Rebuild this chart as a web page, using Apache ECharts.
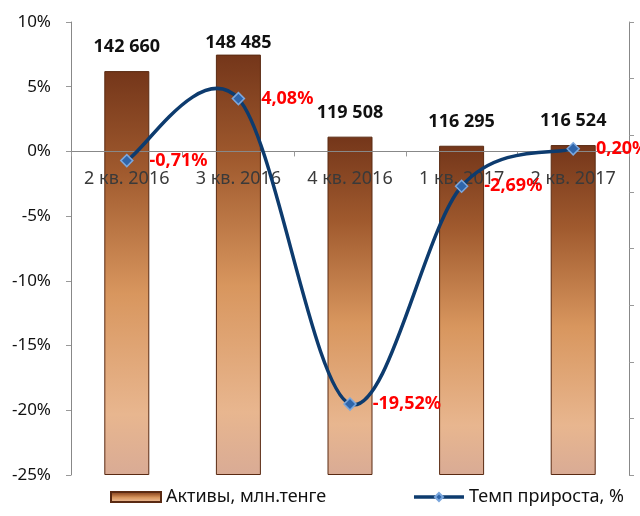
<!DOCTYPE html>
<html><head><meta charset="utf-8">
<script src="https://cdn.jsdelivr.net/npm/echarts@6/dist/echarts.min.js"></script>
<style>html,body{margin:0;padding:0;background:#fff}#c{width:640px;height:516px}</style>
</head><body><div id="c"></div>
<script>
const categories = ['2 кв. 2016', '3 кв. 2016', '4 кв. 2016', '1 кв. 2017', '2 кв. 2017'];
const assets = [142660, 148485, 119508, 116295, 116524];
const growth = [-0.71, 4.08, -19.52, -2.69, 0.20];
const pctTicks = {min: -25, max: 10, interval: 5};
const assetTicks = {min: 0, max: 160000, interval: 20000};
const seriesNames = ['Активы, млн.тенге', 'Темп прироста, %'];

const FONT = 'Noto Sans';
const LINE_COLOR = '#0d3b6e';
const GRID = {left: 71, right: 11, top: 22, bottom: 41};
const plotH = 516 - GRID.top - GRID.bottom;
const zeroOffset = -plotH * (0 - pctTicks.min) / (pctTicks.max - pctTicks.min);

const barGrad = new echarts.graphic.LinearGradient(0, 0, 0, 1, [
  {offset: 0, color: '#74361a'},
  {offset: 0.25, color: '#a05a2e'},
  {offset: 0.55, color: '#d8965e'},
  {offset: 0.85, color: '#e8b68f'},
  {offset: 1, color: '#d9ab95'}
]);
const fmtSpace = v => String(v).replace(/\B(?=(\d{3})+(?!\d))/g, ' ');
const barData = assets.map((v, i) => i === 1 ? {value: v, label: {distance: 3}} : v);

// Excel-like smoothing (Catmull-Rom -> Bezier) drawn through the chart's own scales
function renderCurve(params, api) {
  const i = params.dataIndex, n = growth.length;
  if (i >= n - 1) return {type: 'group', children: []};
  const c = k => api.coord([k, growth[k]]);
  const p0 = c(Math.max(i - 1, 0)), p1 = c(i), p2 = c(i + 1), p3 = c(Math.min(i + 2, n - 1));
  return {
    type: 'bezierCurve',
    shape: {
      x1: p1[0], y1: p1[1], x2: p2[0], y2: p2[1],
      cpx1: p1[0] + (p2[0] - p0[0]) / 6, cpy1: p1[1] + (p2[1] - p0[1]) / 6,
      cpx2: p2[0] - (p3[0] - p1[0]) / 6, cpy2: p2[1] - (p3[1] - p1[1]) / 6
    },
    style: {stroke: LINE_COLOR, lineWidth: 3.5, fill: null, lineCap: 'round'}
  };
}

const chart = echarts.init(document.getElementById('c'));
chart.setOption({
  animation: false,
  textStyle: {fontFamily: FONT},
  grid: Object.assign({containLabel: false}, GRID),
  legend: {
    bottom: 5, left: 105, itemGap: 86, itemWidth: 50, itemHeight: 10,
    textStyle: {fontFamily: FONT, fontSize: 18, color: '#111'},
    data: [
      {name: seriesNames[0], icon: 'rect'},
      {name: seriesNames[1], lineStyle: {color: LINE_COLOR, width: 3.5, opacity: 1}}
    ]
  },
  xAxis: {
    type: 'category', data: categories, position: 'bottom', offset: zeroOffset, z: 3,
    axisLine: {onZero: false, lineStyle: {color: '#888', width: 1}},
    axisTick: {show: true, length: 5, lineStyle: {color: '#999'}},
    axisLabel: {margin: 18, fontSize: 18, color: '#3a3a3a', fontFamily: FONT}
  },
  yAxis: [
    {type: 'value', min: pctTicks.min, max: pctTicks.max, interval: pctTicks.interval,
     axisLine: {show: true, lineStyle: {color: '#888'}},
     axisTick: {show: true, length: 5, lineStyle: {color: '#999'}},
     splitLine: {show: false},
     axisLabel: {formatter: '{value}%', fontSize: 17, color: '#111', margin: 20, fontFamily: FONT}},
    {type: 'value', position: 'right', min: assetTicks.min, max: assetTicks.max, interval: assetTicks.interval,
     axisLine: {show: true, lineStyle: {color: '#888'}},
     axisTick: {show: true, length: 5, lineStyle: {color: '#999'}},
     splitLine: {show: false},
     axisLabel: {show: false}}
  ],
  series: [
    {name: seriesNames[0], type: 'bar', yAxisIndex: 1, barWidth: 45, data: barData,
     itemStyle: {color: barGrad, borderColor: '#5a2a12', borderWidth: 1},
     label: {show: true, position: 'top', distance: 15, formatter: p => fmtSpace(p.value),
             fontSize: 18, fontWeight: 'bold', color: '#111', fontFamily: FONT}},
    {name: 'curve', type: 'custom', yAxisIndex: 0, z: 4, silent: true,
     data: growth.map((v, i) => [i, v]), renderItem: renderCurve},
    {name: seriesNames[1], type: 'line', yAxisIndex: 0, data: growth, z: 5,
     symbol: 'diamond', symbolSize: 12,
     lineStyle: {color: LINE_COLOR, width: 3.5, opacity: 0},
     itemStyle: {color: '#2f65aa', borderColor: '#7ba7dd', borderWidth: 1.5},
     label: {show: true, position: 'right', distance: 16,
             formatter: p => p.value.toFixed(2).replace('.', ',') + '%',
             fontSize: 18, fontWeight: 'bold', color: '#ff0000', fontFamily: FONT}}
  ]
});
</script></body></html>
